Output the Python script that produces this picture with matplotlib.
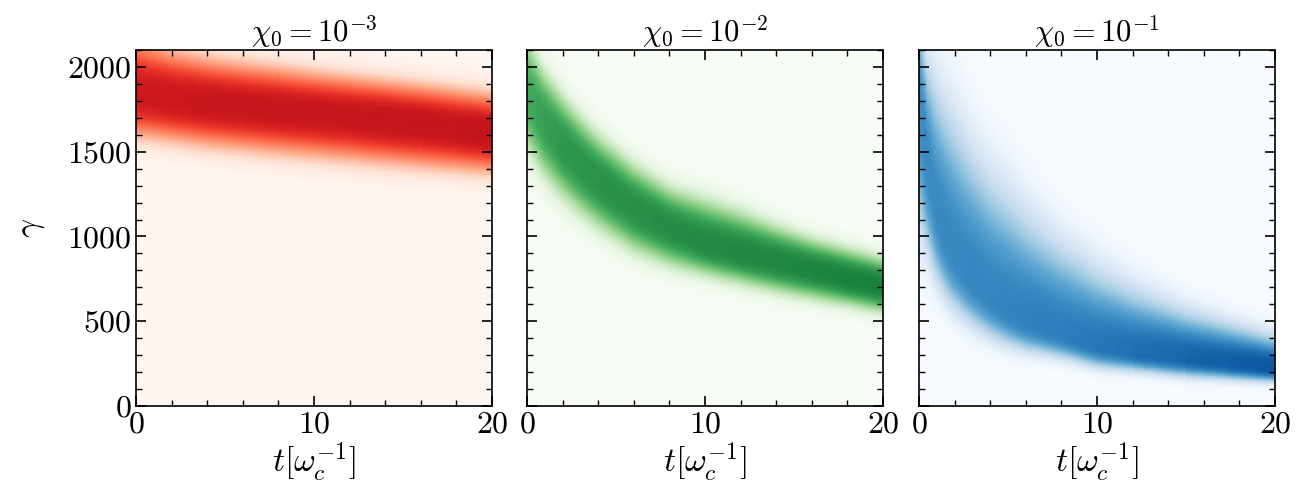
import numpy as np
import matplotlib
matplotlib.use("Agg")
import matplotlib.pyplot as plt
from matplotlib.ticker import MultipleLocator

plt.rcParams['font.family'] = 'serif'
plt.rcParams['font.serif'] = ['cmr10']
plt.rcParams['mathtext.fontset'] = 'cm'
plt.rcParams['axes.formatter.use_mathtext'] = True

# band: peak position, visible lower / upper edge, peak level
t1 = [0, 2, 4, 6, 8, 10, 12, 14, 16, 18, 20]
c1 = [1840, 1812, 1788, 1768, 1749, 1730, 1710, 1690, 1668, 1640, 1612]
lo1 = [1560, 1530, 1500, 1478, 1455, 1436, 1416, 1396, 1378, 1362, 1347]
hi1 = [2220, 2140, 2090, 2060, 2033, 2004, 1980, 1955, 1930, 1905, 1877]
pk1 = [0.74, 0.75, 0.76, 0.76, 0.76, 0.76, 0.76, 0.77, 0.77, 0.77, 0.78]

t2 = [0, 1, 2, 3, 4, 6, 8, 10, 12, 14, 16, 18, 20]
c2 = [1850, 1680, 1543, 1430, 1328, 1171, 1053, 960, 905, 853, 804, 755, 706]
lo2 = [1480, 1308, 1190, 1095, 1014, 877, 798, 745, 696, 647, 608, 569, 530]
hi2 = [2220, 2014, 1876, 1750, 1640, 1465, 1328, 1260, 1186, 1098, 1020, 961, 902]
pk2 = [0.62, 0.67, 0.70, 0.71, 0.72, 0.73, 0.74, 0.75, 0.76, 0.76, 0.77, 0.78, 0.79]

t3 = [0, 0.5, 1, 1.5, 2, 3, 4, 5, 6, 8, 10, 12, 15, 20]
c3 = [1850, 1450, 1180, 1010, 900, 760, 650, 570, 510, 430, 360, 320, 285, 227]
lo3 = [1000, 857, 700, 610, 540, 450, 387, 340, 308, 270, 215, 195, 160, 130]
hi3 = [2400, 2080, 1960, 1860, 1770, 1580, 1430, 1320, 1200, 1010, 860, 740, 600, 440]
pk3 = [0.64, 0.65, 0.65, 0.66, 0.66, 0.67, 0.67, 0.68, 0.69, 0.70, 0.72, 0.75, 0.79, 0.85]

titles = [r'$\chi_0 = 10^{-3}$', r'$\chi_0 = 10^{-2}$', r'$\chi_0 = 10^{-1}$']
cmaps = ['Reds', 'Greens', 'Blues']
shape_lo = [3.0, 3.0, 3.0]   # flatness of the band profile below / above the peak
shape_hi = [3.0, 3.0, 2.6]
edge_val = 0.15              # colour level at the read edge
panels = [(t1, c1, lo1, hi1, pk1), (t2, c2, lo2, hi2, pk2), (t3, c3, lo3, hi3, pk3)]

# offsets across the band, in units of the distance centre -> edge
u = np.linspace(-2.0, 2.0, 201)

fig = plt.figure(figsize=(13.03, 4.98), dpi=100)
lefts = [0.1044, 0.4045, 0.7053]

for i, (tt, cc, lo, hi, pk) in enumerate(panels):
    ax = fig.add_axes([lefts[i], 0.1847, 0.2732, 0.7149])
    cmap = plt.get_cmap(cmaps[i])
    ax.set_facecolor(cmap(0.0))
    tt = np.array(tt, float)
    cc = np.array(cc, float)
    d_lo = cc - np.array(lo, float)
    d_hi = np.array(hi, float) - cc
    U, T = np.meshgrid(u, tt, indexing='ij')
    G = cc + np.where(U < 0, U * d_lo, U * d_hi)
    pkk = np.array(pk, float)
    p = np.where(U < 0, shape_lo[i], shape_hi[i])
    Z = pkk * np.exp(-np.abs(U) ** p * np.log(pkk / edge_val))
    ax.pcolormesh(T, G, Z, shading='gouraud', cmap=cmap, vmin=0, vmax=1)
    ax.set_xlim(0, 20)
    ax.set_ylim(0, 2100)
    ax.xaxis.set_major_locator(MultipleLocator(10))
    ax.xaxis.set_minor_locator(MultipleLocator(2))
    ax.yaxis.set_major_locator(MultipleLocator(500))
    ax.yaxis.set_minor_locator(MultipleLocator(100))
    ax.tick_params(which='both', direction='in', top=True, right=True, labelsize=23)
    ax.tick_params(which='major', length=7, width=1.2)
    ax.tick_params(which='minor', length=4, width=1)
    for sp in ax.spines.values():
        sp.set_linewidth(1.2)
        sp.set_zorder(5)
    ax.set_title(titles[i], fontsize=22, pad=4)
    ax.set_xlabel(r'$t[\omega_c^{-1}]$', fontsize=24, labelpad=2)
    if i == 0:
        ax.set_ylabel(r'$\gamma$', fontsize=24, labelpad=14)
    else:
        ax.set_yticklabels([])

fig.savefig('out.png', dpi=100)
